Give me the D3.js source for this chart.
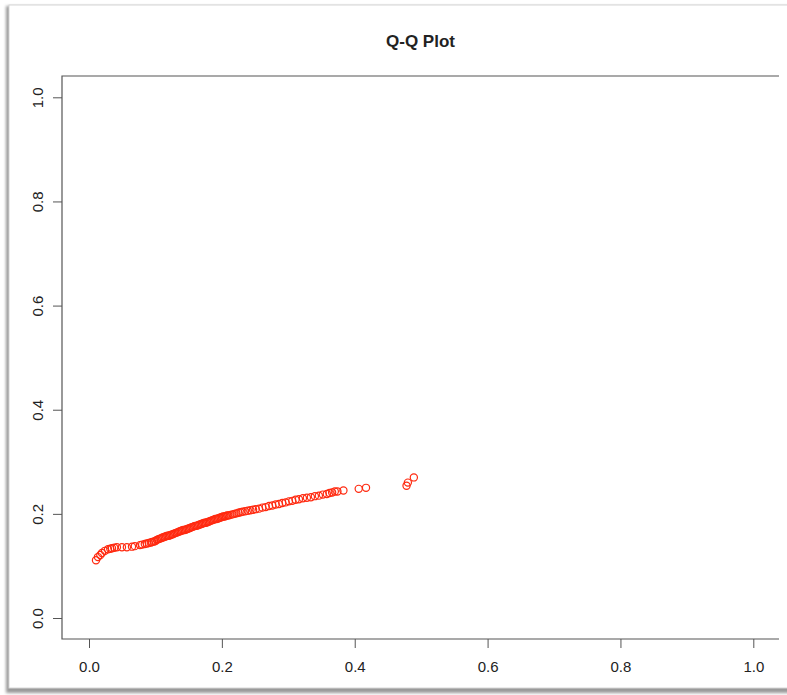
<!DOCTYPE html>
<html>
<head>
<meta charset="utf-8">
<script src="https://cdn.jsdelivr.net/npm/d3@7"></script>
<style>
  body { margin: 0; background: #fff; }
  svg { display: block; font-family: "Liberation Sans", Arial, Helvetica, sans-serif; }
</style>
</head>
<body>
<svg width="787" height="695"></svg>
<script>
// sample quantiles (x) vs theoretical quantiles (y)
const qqX = [0.0105,0.0135,0.017,0.0195,0.024,0.0286,0.032,0.0346,0.038,0.042,0.0496,0.057,0.0647,0.069,0.0767,
  0.080,0.084,0.087,0.090,0.093,0.095,0.098,0.100,0.102,0.104,0.106,0.108,0.110,0.112,0.114,0.116,0.118,0.120,
  0.122,0.124,0.126,0.128,0.130,0.132,0.134,0.136,0.138,0.140,0.142,0.144,0.146,0.148,0.150,0.152,0.154,0.156,
  0.158,0.160,0.162,0.164,0.166,0.168,0.170,0.172,0.174,0.176,0.178,0.180,0.182,0.184,0.186,0.188,0.190,0.192,
  0.194,0.196,0.198,0.200,0.202,0.204,0.206,0.208,0.210,0.213,0.216,0.219,0.222,0.225,0.228,0.231,0.235,0.239,
  0.243,0.247,0.251,0.256,0.261,0.266,0.271,0.276,0.281,0.286,0.291,0.296,0.301,0.306,0.311,0.316,0.322,0.328,
  0.334,0.340,0.346,0.352,0.358,0.362,0.366,0.370,0.374,0.383,0.406,0.417,0.478,0.480,0.489];
const qqY = [0.111,0.117,0.121,0.125,0.129,0.132,0.133,0.134,0.135,0.136,0.136,0.136,0.137,0.138,0.140,
  0.141,0.142,0.143,0.144,0.145,0.146,0.147,0.148,0.150,0.151,0.152,0.153,0.154,0.155,0.156,0.157,0.158,0.158,
  0.159,0.160,0.161,0.162,0.163,0.164,0.165,0.166,0.167,0.168,0.169,0.169,0.170,0.171,0.172,0.173,0.174,0.175,
  0.176,0.177,0.177,0.178,0.179,0.180,0.181,0.182,0.183,0.183,0.184,0.185,0.186,0.187,0.188,0.189,0.190,0.190,
  0.191,0.192,0.193,0.194,0.195,0.195,0.196,0.197,0.197,0.198,0.199,0.200,0.201,0.202,0.203,0.204,0.205,0.206,
  0.207,0.208,0.209,0.210,0.212,0.213,0.215,0.216,0.218,0.219,0.221,0.222,0.224,0.225,0.227,0.228,0.230,0.231,
  0.232,0.234,0.235,0.237,0.238,0.240,0.241,0.243,0.243,0.245,0.248,0.250,0.254,0.260,0.270];
const xTicks = [0, 0.2, 0.4, 0.6, 0.8, 1.0];
const yTicks = [0, 0.2, 0.4, 0.6, 0.8, 1.0];
const title = "Q-Q Plot";

const svg = d3.select("svg");

// window frame with a little shadow, like the screenshot
const defs = svg.append("defs");
defs.append("filter").attr("id", "blur").append("feGaussianBlur").attr("stdDeviation", 1.6);
svg.append("rect").attr("x", 6).attr("y", 6).attr("width", 800).attr("height", 687)
  .attr("fill", "#9a9a9a").attr("filter", "url(#blur)");
svg.append("rect").attr("x", 9).attr("y", 5).attr("width", 800).attr("height", 683)
  .attr("fill", "#fff").attr("stroke", "#d6d6d6");

// plot region
const plotL = 62, plotT = 76, plotR = 779, plotB = 639;
const x = d3.scaleLinear().domain([0, 1]).range([89, 753.3]);
const y = d3.scaleLinear().domain([0, 1]).range([618, 97.3]);

const fmt = d3.format(".1f");

// box (right side is cut off in the picture)
svg.append("path")
  .attr("d", `M${plotR},${plotT}H${plotL}V${plotB}H${plotR}`)
  .attr("fill", "none").attr("stroke", "#555").attr("stroke-width", 1.2);

// x axis
const xAxis = svg.append("g").attr("transform", `translate(0,${plotB})`)
  .call(d3.axisBottom(x).tickValues(xTicks).tickFormat(fmt).tickSize(9).tickPadding(8).tickSizeOuter(0));
xAxis.select(".domain").remove();
xAxis.selectAll("line").attr("stroke", "#555");
xAxis.selectAll("text").attr("font-size", 15).attr("fill", "#222").attr("dy", null).attr("y", 33);

// y axis, labels turned like R does
const yAxis = svg.append("g").attr("transform", `translate(${plotL},0)`)
  .call(d3.axisLeft(y).tickValues(yTicks).tickFormat(fmt).tickSize(9).tickSizeOuter(0));
yAxis.select(".domain").remove();
yAxis.selectAll("line").attr("stroke", "#555");
yAxis.selectAll("text")
  .attr("font-size", 15).attr("fill", "#222")
  .attr("x", null).attr("dy", null)
  .attr("text-anchor", "middle")
  .attr("transform", "translate(-19,0) rotate(-90)");

// title
svg.append("text").attr("x", (plotL + plotR) / 2).attr("y", 47)
  .attr("text-anchor", "middle").attr("font-size", 17).attr("font-weight", "bold")
  .attr("fill", "#222").text(title);

// points
const pts = qqX.map((v, i) => ({ x: v, y: qqY[i] }));
svg.append("g").selectAll("circle").data(pts).enter().append("circle")
  .attr("cx", d => x(d.x)).attr("cy", d => y(d.y)).attr("r", 3.6)
  .attr("fill", "none").attr("stroke", "#ff2a10").attr("stroke-width", 1.2);
</script>
</body>
</html>
